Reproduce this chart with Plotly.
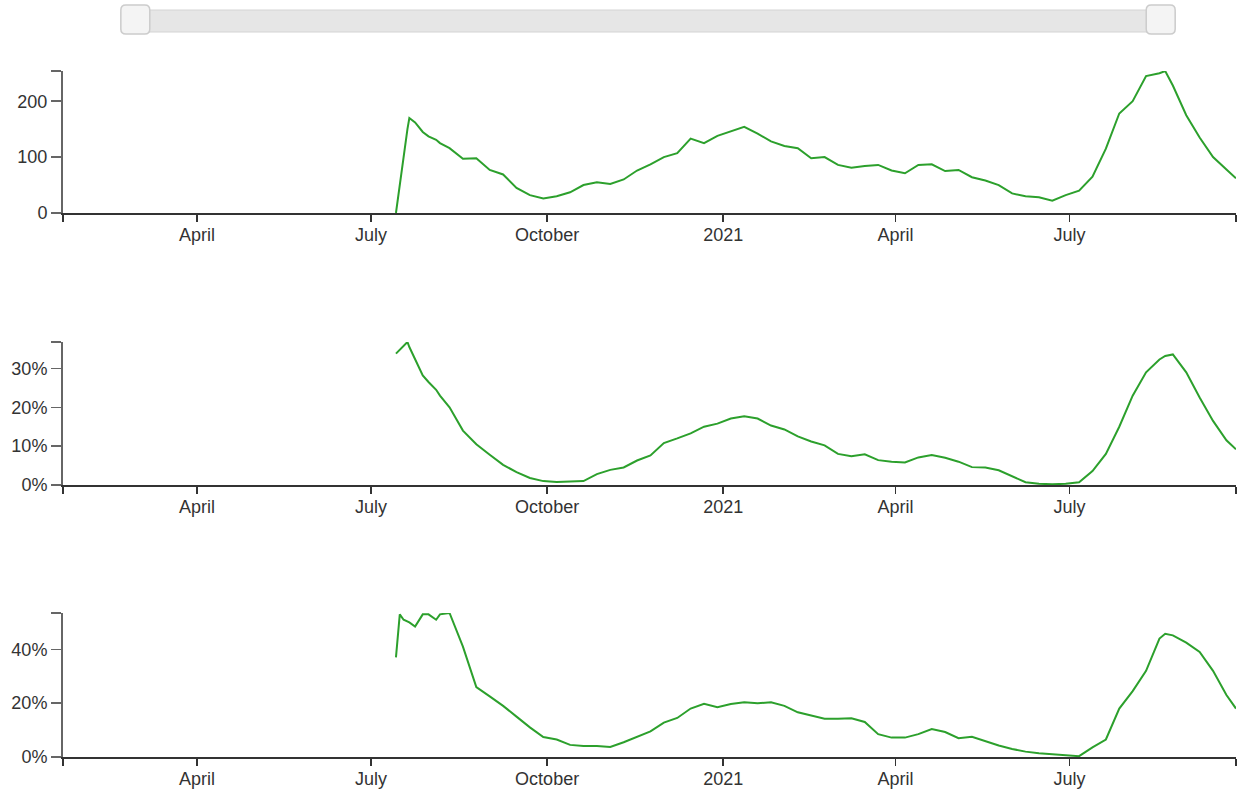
import plotly.graph_objects as go

# ---------------- data ----------------
dates = [
    "2020-07-14", "2020-07-16", "2020-07-18", "2020-07-20", "2020-07-21", "2020-07-24",
    "2020-07-28", "2020-07-31", "2020-08-04", "2020-08-06", "2020-08-11", "2020-08-18",
    "2020-08-25", "2020-09-01", "2020-09-08", "2020-09-15", "2020-09-22", "2020-09-29",
    "2020-10-06", "2020-10-13", "2020-10-20", "2020-10-27", "2020-11-03", "2020-11-10",
    "2020-11-17", "2020-11-24", "2020-12-01", "2020-12-08", "2020-12-15", "2020-12-22",
    "2020-12-29", "2021-01-05", "2021-01-12", "2021-01-19", "2021-01-26", "2021-02-02",
    "2021-02-09", "2021-02-16", "2021-02-23", "2021-03-02", "2021-03-09", "2021-03-16",
    "2021-03-23", "2021-03-30", "2021-04-06", "2021-04-13", "2021-04-20", "2021-04-27",
    "2021-05-04", "2021-05-11", "2021-05-18", "2021-05-25", "2021-06-01", "2021-06-08",
    "2021-06-15", "2021-06-22", "2021-06-29", "2021-07-06", "2021-07-13", "2021-07-20",
    "2021-07-27", "2021-08-03", "2021-08-10", "2021-08-17", "2021-08-20", "2021-08-24",
    "2021-08-31", "2021-09-07", "2021-09-14", "2021-09-21", "2021-09-26",
]

series_counts = [
    0, 52, 105, 150, 170, 162,
    145, 137, 131, 125, 116, 97,
    98, 77, 69, 45, 32, 26,
    30, 37, 50, 55, 52, 60,
    76, 87, 100, 107, 133, 125,
    138, 146, 154, 142, 128, 120,
    116, 98, 100, 86, 81, 84,
    86, 76, 71, 86, 87, 75,
    77, 64, 58, 50, 35, 30,
    28, 22, 32, 40, 65, 115,
    178, 200, 245, 250, 254, 228,
    175, 135, 100, 78, 62,
]

series_pct_a = [
    33.8, 34.8, 35.6, 36.8, 35.5, 32.5,
    28.2, 26.5, 24.5, 23.0, 20.0, 14.0,
    10.5, 7.8, 5.2, 3.3, 1.8, 1.0,
    0.8, 0.9, 1.0, 2.8, 3.9, 4.5,
    6.3, 7.6, 10.8, 12.0, 13.3, 15.0,
    15.8, 17.1, 17.7, 17.1, 15.3, 14.3,
    12.5, 11.2, 10.2, 8.0, 7.4, 7.9,
    6.4, 6.0, 5.8, 7.1, 7.7, 7.0,
    6.0, 4.6, 4.5, 3.8, 2.2, 0.7,
    0.3, 0.2, 0.3, 0.7, 3.6, 8.0,
    15.0, 23.0, 29.0, 32.3, 33.2, 33.6,
    29.0, 22.5, 16.5, 11.5, 9.2,
]

series_pct_b = [
    37.0, 53.0, 51.0, 50.3, 50.0, 48.5,
    53.0, 53.0, 51.0, 53.0, 53.5, 41.0,
    26.0, 22.5, 19.0, 15.0, 11.0, 7.4,
    6.5, 4.5, 4.1, 4.1, 3.7, 5.5,
    7.5, 9.5, 12.8, 14.5, 18.0, 19.8,
    18.5, 19.7, 20.3, 20.0, 20.3, 19.0,
    16.6, 15.3, 14.2, 14.2, 14.4, 13.0,
    8.5, 7.2, 7.2, 8.5, 10.4, 9.3,
    7.0, 7.5, 5.8, 4.3, 3.0, 2.0,
    1.4, 1.0, 0.7, 0.3, 3.6, 6.5,
    18.0, 24.5, 32.0, 44.0, 45.8, 45.2,
    42.5, 39.0, 32.0, 23.0, 18.0,
]

x_range = ["2020-01-22", "2021-09-26"]
x_tick_dates = ["2020-04-01", "2020-07-01", "2020-10-01", "2021-01-01", "2021-04-01", "2021-07-01"]
x_tick_labels = ["April", "July", "October", "2021", "April", "July"]

y_ticks_counts = [0, 100, 200]
y_ticks_pct_a = [0, 10, 20, 30]
y_ticks_pct_b = [0, 20, 40]

# ---------------- styling ----------------
W = 1247
REF_H = 789
H = 800                      # page height (viewport is photographed slightly taller)
K = H / REF_H


def yy(py):
    return py * K


ML, MR = 60, 11
MT = yy(70)
MB = H - yy(756)
PW, PH = W - ML - MR, H - MT - MB
LINE_COLOR = "#2ca02c"
FONT = dict(family="Liberation Sans, Arial, sans-serif", size=18, color="#333333")


def py_to_paper(py):
    return (H - MB - yy(py)) / PH


def px_to_paper(px):
    return (px - ML) / PW


domains = [
    [py_to_paper(212), py_to_paper(70)],
    [py_to_paper(484), py_to_paper(341)],
    [py_to_paper(756), py_to_paper(612)],
]

series_list = [series_counts, series_pct_a, series_pct_b]
yticks_list = [y_ticks_counts, y_ticks_pct_a, y_ticks_pct_b]
suffixes = ["", "%", "%"]

fig = go.Figure()
layout = dict(
    width=W, height=H,
    margin=dict(l=ML, r=MR, t=MT, b=MB, pad=0),
    paper_bgcolor="white", plot_bgcolor="white",
    showlegend=False, font=FONT,
)

for i, (vals, yt, suf) in enumerate(zip(series_list, yticks_list, suffixes)):
    n = "" if i == 0 else str(i + 1)
    fig.add_trace(go.Scatter(
        x=dates, y=vals, mode="lines",
        line=dict(color=LINE_COLOR, width=2),
        xaxis="x" + n, yaxis="y" + n, hoverinfo="skip",
    ))
    ymax = max(vals)
    layout["xaxis" + n] = dict(
        type="date", range=x_range, anchor="y" + n,
        tickmode="array",
        tickvals=[x_range[0]] + x_tick_dates + [x_range[1]],
        ticktext=[""] + x_tick_labels + [""],
        ticks="outside", ticklen=7, tickwidth=1.5, tickcolor="#333333",
        ticklabelstandoff=-2,
        showline=True, linecolor="#333333", linewidth=1.5,
        showgrid=False, zeroline=False, tickfont=FONT, fixedrange=True,
    )
    layout["yaxis" + n] = dict(
        domain=domains[i], range=[0, ymax], anchor="x" + n,
        tickmode="array",
        tickvals=yt + [ymax],
        ticktext=[f"{v}{suf}" for v in yt] + [""],
        ticks="outside", ticklen=10, tickwidth=1.5, tickcolor="#666666",
        showline=True, linecolor="#666666", linewidth=2,
        showgrid=False, zeroline=False, tickfont=FONT, fixedrange=True,
    )


def rounded_rect(x0, y0, x1, y1, r):
    X = px_to_paper
    Y = py_to_paper
    return (
        f"M {X(x0 + r)},{Y(y0)} L {X(x1 - r)},{Y(y0)} Q {X(x1)},{Y(y0)} {X(x1)},{Y(y0 + r)} "
        f"L {X(x1)},{Y(y1 - r)} Q {X(x1)},{Y(y1)} {X(x1 - r)},{Y(y1)} "
        f"L {X(x0 + r)},{Y(y1)} Q {X(x0)},{Y(y1)} {X(x0)},{Y(y1 - r)} "
        f"L {X(x0)},{Y(y0 + r)} Q {X(x0)},{Y(y0)} {X(x0 + r)},{Y(y0)} Z"
    )


shapes = [
    dict(type="path", xref="paper", yref="paper", path=rounded_rect(118, 9, 1175, 31, 3),
         fillcolor="#e6e6e6", line=dict(color="#d4d4d4", width=1)),
    dict(type="path", xref="paper", yref="paper", path=rounded_rect(118, 4, 147, 33, 5),
         fillcolor="#f4f4f4", line=dict(color="#cccccc", width=1.5)),
    dict(type="path", xref="paper", yref="paper", path=rounded_rect(1146, 4, 1175, 33, 5),
         fillcolor="#f4f4f4", line=dict(color="#cccccc", width=1.5)),
]
layout["shapes"] = shapes

fig.update_layout(**layout)
fig.write_html(
    "out.html",
    config={"displayModeBar": False, "staticPlot": True},
    post_script="document.body.style.margin='0';document.body.style.overflow='hidden';",
)
